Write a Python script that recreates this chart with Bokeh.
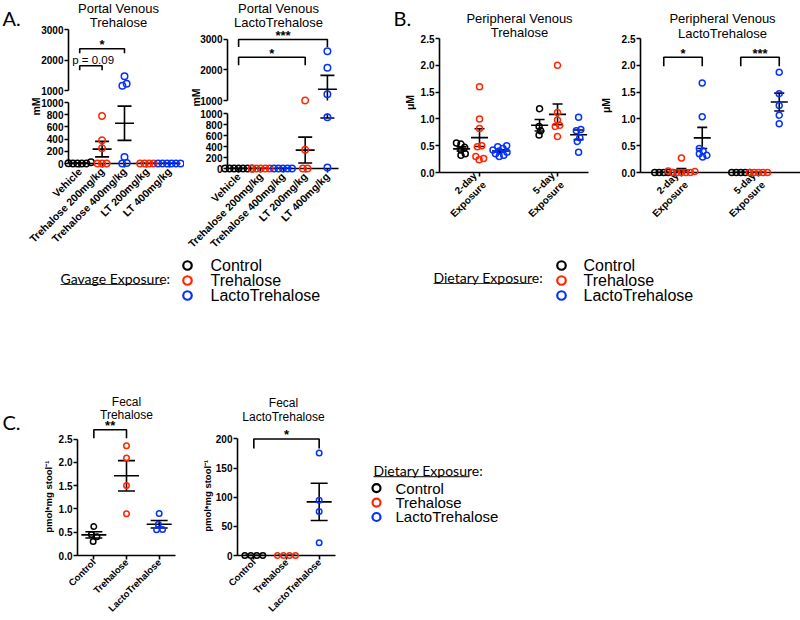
import numpy as np
from math import pi
from bokeh.plotting import figure
from bokeh.models import Range1d, FixedTicker, NumeralTickFormatter
from bokeh.layouts import row, column
from bokeh.embed import file_html
from bokeh.resources import INLINE
from bokeh.core.properties import value

# ---------------------------------------------------------------- data
groups_gavage = ["Vehicle", "Trehalose 200mg/kg", "Trehalose 400mg/kg", "LT 200mg/kg", "LT 400mg/kg"]
exposure_labels = ["2-day\nExposure", "5-day\nExposure"]
fecal_groups = ["Control", "Trehalose", "LactoTrehalose"]
legend_labels = ["Control", "Trehalose", "LactoTrehalose"]

# Portal venous trehalose (mM) per gavage group
pv_tre_vehicle = [0, 0, 0, 0, 6, 20]
pv_tre_t200 = [780, 380, 250, 0, 0, 0]
pv_tre_t400 = [1467, 1220, 1155, 108, 10, 0]
pv_tre_lt200 = [0, 0, 0, 0]
pv_tre_lt400 = [0, 0, 0, 0, 0, 0]

# Portal venous lactotrehalose (mM) per gavage group
pv_lt_vehicle = [0, 0, 0, 0, 0, 0, 0]
pv_lt_t200 = [0, 0, 0, 0, 0]
pv_lt_t400 = [0, 0, 0, 0, 0]
pv_lt_lt200 = [1000, 340, 0, 0]
pv_lt_lt400 = [2615, 2077, 1209, 934, 20]

# Peripheral venous (uM): [2-day, 5-day]
per_tre_control = [[0.55, 0.53, 0.47, 0.42, 0.35, 0.32], [1.19, 0.86, 0.78, 0.70]]
per_tre_trehalose = [[1.60, 1.00, 0.82, 0.50, 0.48, 0.30, 0.26, 0.24], [2.00, 1.12, 0.98, 0.88, 0.86, 0.67]]
per_tre_lacto = [[0.50, 0.48, 0.45, 0.42, 0.40, 0.38, 0.35, 0.32, 0.30], [1.03, 0.80, 0.78, 0.65, 0.58, 0.38]]

per_lt_control = [[0, 0, 0, 0, 0], [0, 0, 0, 0, 0]]
per_lt_trehalose = [[0.27, 0.03, 0.02, 0, 0, 0, 0, 0], [0, 0, 0, 0, 0]]
per_lt_lacto = [[1.67, 1.04, 0.45, 0.40, 0.35, 0.32, 0.29], [1.87, 1.47, 1.25, 1.07, 0.91]]

# Fecal (pmol*mg stool^-1): control, trehalose, lactotrehalose
fecal_tre = [[0.62, 0.45, 0.40, 0.30], [2.355, 2.09, 1.50, 0.895], [0.90, 0.67, 0.56, 0.55]]
fecal_lt = [[0, 0, 0, 0], [0, 0, 0, 0], [175.8, 94.8, 75.5, 22.0]]

# significance: (group a, group b, level, text)
sig_pv_tre = [(0, 2, 2370, "*"), (0, 1, 1810, "p = 0.09")]
sig_pv_lt = [(0, 4, 3000, "***"), (0, 3, 2420, "*")]
# (day index, group a, group b, level, text)
sig_per_lt = [(0, 0, 2, 2.15, "*"), (1, 0, 2, 2.15, "***")]
sig_fecal_tre = [(0, 1, 2.7, "**")]
sig_fecal_lt = [(0, 2, 200, "*")]

# ---------------------------------------------------------------- style
FONT = "Liberation Sans"
HFONT = "Lato"
BLACK, RED, BLUE = "#000000", "#FF2600", "#0433FF"
COLORS_A = [BLACK, RED, BLUE, RED, BLUE]
COLORS_3 = [BLACK, RED, BLUE]
B_OFFS = [-0.23, 0.0, 0.27]


class Panel:
    def __init__(self, fx, fy, w, h, fl, ft, fw, fh, xr, yr, xaxis=True, yaxis=True):
        self.fx, self.fy, self.fl, self.ft, self.fw, self.fh = fx, fy, fl, ft, fw, fh
        self.xr, self.yr = xr, yr
        self.xppu = fw / (xr[1] - xr[0])
        self.yppu = fh / (yr[1] - yr[0])
        p = figure(width=w, height=h, x_range=Range1d(*xr), y_range=Range1d(*yr),
                   output_backend="svg", toolbar_location=None, title_location=None,
                   x_axis_location="below" if xaxis else None,
                   y_axis_location="left" if yaxis else None,
                   min_border_left=fl, min_border_top=ft,
                   min_border_right=w - fl - fw, min_border_bottom=h - ft - fh)
        p.outline_line_color = None
        p.xgrid.visible = False
        p.ygrid.visible = False
        p.background_fill_color = "white"
        p.border_fill_color = "white"
        for ax in p.axis:
            ax.axis_line_width = 1.6
            ax.axis_line_color = "black"
            ax.major_tick_line_width = 1.6
            ax.major_tick_line_color = "black"
            ax.major_tick_out = 4
            ax.major_tick_in = 0
            ax.minor_tick_line_color = None
            ax.major_label_text_font = FONT
            ax.major_label_text_font_style = "bold"
            ax.major_label_text_font_size = "10px"
            ax.major_label_text_color = "black"
            ax.major_label_standoff = 2
        for ax in p.yaxis:
            ax.major_label_standoff = 1
        self.p = p

    def data_xy(self, cx, cy):
        x = self.xr[0] + (cx - self.fx - self.fl) / self.xppu
        y = self.yr[1] - (cy - self.fy - self.ft) / self.yppu
        return x, y

    def glyph_text(self, x, y, s, size, font=FONT, style="normal", align="center",
                   baseline="middle", angle=0.0, yoff=0):
        self.p.text(x=[x], y=[y], text=[s], text_font=value(font),
                    text_font_size=value(f"{size}px"), text_font_style=style,
                    text_align=align, text_baseline=baseline, angle=angle,
                    y_offset=yoff, text_color="black", level="overlay")

    def text(self, cx, cy, s, size, **kw):
        x, y = self.data_xy(cx, cy)
        self.glyph_text(x, y, s, size, **kw)


def swarm(vals, yppu, xppu, d):
    y = np.asarray(vals, float) * yppu
    n = len(y)
    order = list(np.argsort(y, kind="stable"))
    xo = np.zeros(n)
    placed = []
    for i in order:
        k = 0
        found = None
        while found is None:
            for c in ([0.0] if k == 0 else [0.25 * k, -0.25 * k]):
                if all((c - px) ** 2 + (y[i] - py) ** 2 >= d * d for px, py in placed):
                    found = c
                    break
            k += 1
        xo[i] = found
        placed.append((found, y[i]))
    start = 0
    for j in range(1, n + 1):
        if j == n or y[order[j]] - y[order[j - 1]] >= d:
            idx = order[start:j]
            xo[idx] -= xo[idx].mean()
            start = j
    return xo / xppu


def points(pan, x, vals, color, size, d):
    vals = np.asarray(vals, float)
    if len(vals) == 0:
        return
    offs = swarm(vals, pan.yppu, pan.xppu, d)
    pan.p.scatter(x=list(x + offs), y=list(vals), marker="circle", size=size, fill_color=None,
                  line_color=color, line_width=1.5, level="overlay")


def stats(pan, x, vals, hw_mean_px, hw_cap_px):
    v = np.asarray(vals, float)
    m = v.mean()
    s = v.std(ddof=1) / np.sqrt(len(v))
    hm = hw_mean_px / pan.xppu
    hc = hw_cap_px / pan.xppu
    pan.p.segment(x0=[x - hm, x - hc, x - hc, x], y0=[m, m + s, m - s, m - s],
                  x1=[x + hm, x + hc, x + hc, x], y1=[m, m + s, m - s, m + s],
                  line_color="black", line_width=1.6)


def bracket(pan, xa, xb, level, txt, drop_px, size=13, style="bold", yoff=-4, dx=0.0):
    drop = drop_px / pan.yppu
    pan.p.line(x=[xa, xa, xb, xb], y=[level - drop, level, level, level - drop],
               line_color="black", line_width=1.6)
    pan.glyph_text((xa + xb) / 2 + dx, level, txt, size, style=style, baseline="middle", yoff=yoff)


def xcat(pan, ticks, labels, size="10px"):
    ax = pan.p.xaxis[0]
    ax.ticker = FixedTicker(ticks=ticks)
    ax.major_label_overrides = {t: l for t, l in zip(ticks, labels)}
    ax.major_label_orientation = pi / 4
    ax.major_label_text_font_size = size


def yticks(pan, ticks, fmt=None, bounds=None):
    ax = pan.p.yaxis[0]
    ax.ticker = FixedTicker(ticks=ticks)
    if fmt:
        ax.formatter = NumeralTickFormatter(format=fmt)
    if bounds:
        ax.bounds = bounds


# ---------------------------------------------------------------- panels
AL_up = Panel(0, 0, 184, 96, 68, 29, 112, 61, (-0.5, 4.5), (1000, 3000), xaxis=False)
AL_lo = Panel(0, 96, 184, 160, 68, 6, 112, 61, (-0.5, 4.5), (0, 1000))
AR_up = Panel(184, 0, 166, 107, 43, 30, 111, 70, (-0.5, 4.5), (1000, 3295), xaxis=False)
AR_lo = Panel(184, 107, 166, 149, 43, 6, 111, 60, (-0.5, 4.5), (0, 1000))
BL = Panel(350, 0, 248, 256, 89, 38, 149, 134, (0.487, 2.397), (0, 2.5))
BR = Panel(598, 0, 202, 256, 42, 38, 160, 134, (0.468, 2.546), (0, 2.5))
LEG = Panel(0, 256, 800, 50, 0, 0, 800, 50, (0, 800), (306, 256), xaxis=False, yaxis=False)
CL = Panel(0, 306, 200, 314, 77, 119, 98, 135, (-0.5, 2.5), (0, 2.79))
CR = Panel(200, 306, 150, 314, 37, 119, 98, 135, (-0.5, 2.5), (0, 223.1))
CLEG = Panel(350, 306, 450, 314, 0, 119, 450, 135, (350, 800), (560, 425), xaxis=False, yaxis=False)


# ---- A: broken-axis portal venous panels
def draw_broken(up, lo, data, sig, drops):
    brk = 1000
    for i, (vals, col) in enumerate(zip(data, COLORS_A)):
        v = np.asarray(vals, float)
        points(up, i, v[v >= brk], col, 6.5, 4.5)
        points(lo, i, v[v < brk], col, 6.5, 4.5)
        for pan in (up, lo):
            stats(pan, i, v, 9.5, 7)
    for (a, b, lev, txt), dp in zip(sig, drops):
        if txt.startswith("p"):
            bracket(up, a, b, lev, txt, dp, size=11.5, style="normal", yoff=-6, dx=0.1)
        else:
            bracket(up, a, b, lev, txt, dp)
    yticks(up, [1000, 2000, 3000], bounds=(1000, 3000))
    yticks(lo, [0, 200, 400, 600, 800, 1000])
    xcat(lo, list(range(len(groups_gavage))), groups_gavage, size="10.5px")


draw_broken(AL_up, AL_lo, [pv_tre_vehicle, pv_tre_t200, pv_tre_t400, pv_tre_lt200, pv_tre_lt400],
            sig_pv_tre, [4.5, 4.5])
draw_broken(AR_up, AR_lo, [pv_lt_vehicle, pv_lt_t200, pv_lt_t400, pv_lt_lt200, pv_lt_lt400],
            sig_pv_lt, [7.5, 8])

AL_up.text(2, 17, "A.", 20, font=HFONT, align="left")
AL_up.text(118, 8, "Portal Venous", 13)
AL_up.text(118, 22, "Trehalose", 13)
AL_lo.text(35, 106, "mM", 10.5, style="bold", angle=pi / 2)
AR_up.text(278, 8, "Portal Venous", 13)
AR_up.text(278, 22, "LactoTrehalose", 13)
AR_up.text(195, 97, "mM", 10.5, style="bold", angle=pi / 2)


# ---- B: peripheral venous panels
def draw_per(pan, data):
    for g, (grp, col) in enumerate(zip(data, COLORS_3)):
        for d, vals in enumerate(grp):
            x = d + 1 + B_OFFS[g]
            stats(pan, x, vals, 8.5, 5)
            points(pan, x, vals, col, 6, 4.5)
    yticks(pan, [0, 0.5, 1.0, 1.5, 2.0, 2.5], fmt="0.0")
    xcat(pan, [1, 2], exposure_labels)


draw_per(BL, [per_tre_control, per_tre_trehalose, per_tre_lacto])
draw_per(BR, [per_lt_control, per_lt_trehalose, per_lt_lacto])
for (d, a, b, lev, txt) in sig_per_lt:
    bracket(BR, d + 1 + B_OFFS[a], d + 1 + B_OFFS[b], lev, txt, 9)

BL.text(393, 17, "B.", 20, font=HFONT, align="left")
BL.text(519, 18, "Peripheral Venous", 13)
BL.text(519, 32, "Trehalose", 13)
BL.text(409, 102, "\u03bcM", 10.5, style="bold", angle=pi / 2)
BR.text(722, 18, "Peripheral Venous", 13)
BR.text(722, 33, "LactoTrehalose", 13)
BR.text(605, 105, "\u03bcM", 10.5, style="bold", angle=pi / 2)


# ---- C: fecal panels
def draw_fecal(pan, data, sig, drop, ticks, bounds, fmt=None):
    for g, (vals, col) in enumerate(zip(data, COLORS_3)):
        stats(pan, g, vals, 12.5, 8.5)
        points(pan, g, vals, col, 5.5, 6)
    for (a, b, lev, txt) in sig:
        bracket(pan, a, b, lev, txt, drop)
    yticks(pan, ticks, fmt=fmt, bounds=bounds)
    xcat(pan, [0, 1, 2], fecal_groups, size="9.5px")
    pan.p.xaxis[0].major_label_standoff = 1


draw_fecal(CL, fecal_tre, sig_fecal_tre, 9, [0, 0.5, 1.0, 1.5, 2.0, 2.5], (0, 2.5), fmt="0.0")
draw_fecal(CR, fecal_lt, sig_fecal_lt, 10, [0, 50, 100, 150, 200], (0, 200))

CL.text(2, 421, "C.", 20, font=HFONT, align="left")
CL.text(126, 401, "Fecal", 12)
CL.text(126, 414, "Trehalose", 12)
CL.text(48, 499, "pmol*mg stool\u207b\u00b9", 9.5, style="bold", angle=pi / 2)
CR.text(283, 402, "Fecal", 12)
CR.text(283, 416, "LactoTrehalose", 12)
CR.text(207, 498, "pmol*mg stool\u207b\u00b9", 9.5, style="bold", angle=pi / 2)


# ---- legends
def legend(pan, head, hx, hy, ul_w, mx, tx, y0, step, size, msize):
    pan.text(hx, hy, head, 14, font=HFONT, align="left")
    pan.p.line(x=[hx, hx + ul_w], y=[hy + 6, hy + 6], line_color="#333333", line_width=1.2)
    ys = [y0 + i * step for i in range(len(legend_labels))]
    pan.p.scatter(x=[mx] * len(ys), y=ys, marker="circle", size=msize, fill_color=None,
                  line_color=COLORS_3, line_width=2.2, level="overlay")
    for lab, y in zip(legend_labels, ys):
        pan.text(tx, y, lab, size, align="left")


legend(LEG, "Gavage Exposure:", 60, 278, 102, 187, 210, 265, 15, 16, 8.5)
legend(LEG, "Dietary Exposure:", 433, 277, 99, 561, 583, 265, 15, 16, 8.5)
legend(CLEG, "Dietary Exposure:", 373, 472, 96, 376, 395, 490, 15, 15, 8)

layout = column(
    row(column(AL_up.p, AL_lo.p), column(AR_up.p, AR_lo.p), BL.p, BR.p),
    LEG.p,
    row(CL.p, CR.p, CLEG.p),
)

open("out.html", "w").write(file_html(layout, INLINE, "chart"))
